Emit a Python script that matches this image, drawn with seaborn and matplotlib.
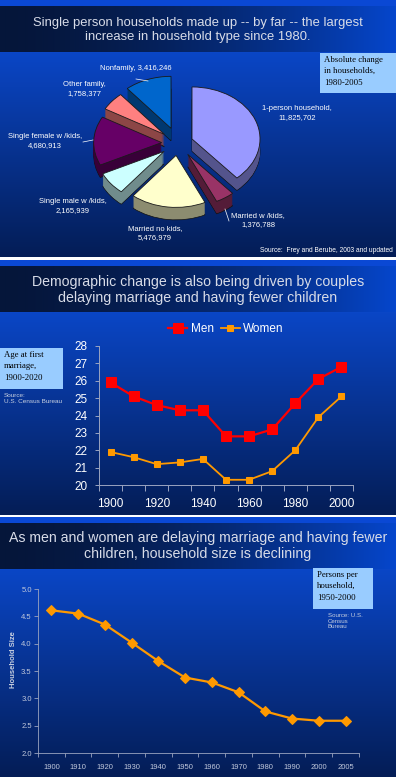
import numpy as np
import seaborn as sns
import matplotlib.pyplot as plt
from matplotlib.colors import to_rgb
from matplotlib.patches import Rectangle

# ---- data ----
hh_types = ["1-person household", "Married w /kids", "Married no kids",
            "Single male w /kids", "Single female w /kids", "Other family", "Nonfamily"]
hh_change = [11825702, 1376788, 5476979, 2165939, 4680913, 1758377, 3416246]
hh_colors = ["#9999FF", "#993366", "#FFFFCC", "#CCFFFF", "#660066", "#FF8080", "#0066CC"]

marriage_years = [1900, 1910, 1920, 1930, 1940, 1950, 1960, 1970, 1980, 1990, 2000]
men_age = [25.9, 25.1, 24.6, 24.3, 24.3, 22.8, 22.8, 23.2, 24.7, 26.1, 26.8]
women_age = [21.9, 21.6, 21.2, 21.3, 21.5, 20.3, 20.3, 20.8, 22.0, 23.9, 25.1]

size_years = ["1900", "1910", "1920", "1930", "1940", "1950", "1960", "1970",
              "1980", "1990", "2000", "2005"]
household_size = [4.61, 4.55, 4.35, 4.02, 3.68, 3.38, 3.29, 3.11, 2.76, 2.63, 2.59, 2.59]

plt.rcParams['font.family'] = ['Liberation Sans', 'DejaVu Sans']

W, H = 396, 777
fig = plt.figure(figsize=(W / 100, H / 100), dpi=100)


def px_box(x0, y0, x1, y1):
    return [x0 / W, 1 - y1 / H, (x1 - x0) / W, (y1 - y0) / H]


# ---- background: three slides ----
bg = np.ones((H, W, 3))
panels = [(0, 257), (260, 515), (517, 777)]
t = np.linspace(0, 1, W)[:, None] ** 1.6
band = (1 - t) * np.array(to_rgb("#05163a")) + t * np.array(to_rgb("#0546cc"))
for top, bottom in panels:
    bg[top:top + 6] = to_rgb("#0a48d4")
    bg[top + 6:top + 52] = band[None, :, :]
    s = np.linspace(0, 1, bottom - top - 52)[:, None]
    grad = (1 - s) * np.array(to_rgb("#0a46c6")) + s * np.array(to_rgb("#041d56"))
    bg[top + 52:bottom] = grad[:, None, :]

ax_bg = fig.add_axes([0, 0, 1, 1])
ax_bg.imshow(bg, aspect='auto', extent=(0, W, H, 0))
ax_bg.set_xlim(0, W)
ax_bg.set_ylim(H, 0)
ax_bg.axis('off')

# ---- 1. exploded "3D" pie ----
ax1 = fig.add_axes(px_box(0, 55, W, 255))
ax1.patch.set_alpha(0)
explode = [0.22, 0.26, 0.24, 0.26, 0.24, 0.26, 0.3]
dark = [tuple(np.array(to_rgb(c)) * 0.55) for c in hh_colors]
depth = 0.24
layers = np.linspace(-depth, 0, 14)[:-1]
for i, d in enumerate(layers):
    ax1.pie(hh_change, colors=dark, startangle=90, counterclock=False,
            explode=explode, center=(0, d),
            wedgeprops=dict(linewidth=0.5 if i == 0 else 0, edgecolor='#111111'))
ax1.pie(hh_change, colors=hh_colors, startangle=90, counterclock=False,
        explode=explode, wedgeprops=dict(linewidth=0.6, edgecolor='#1a1a1a'))
ax1.set_aspect('auto')
cx, cy, rx, ry = 178, 143, 68, 52
ax1.set_xlim(-cx / rx, (W - cx) / rx)
ax1.set_ylim(-(255 - cy) / ry, (cy - 55) / ry)

# ---- 2. age at first marriage ----
ax2 = fig.add_axes(px_box(99, 346, 353, 485))
ax2.patch.set_alpha(0)
x2 = np.arange(len(marriage_years))
sns.lineplot(x=x2, y=men_age, ax=ax2, color='#FF0000', marker='s', markersize=6.5,
             markeredgecolor='#FF0000', linewidth=1.6, label='Men')
sns.lineplot(x=x2, y=women_age, ax=ax2, color='#FF9900', marker='s', markersize=4.5,
             markeredgecolor='#FF9900', linewidth=1.3, label='Women')
ax2.set_xlim(-0.5, len(x2) - 0.5)
ax2.set_ylim(20, 28)
ax2.set_yticks(range(20, 29))
ax2.set_xticks(x2[::2])
ax2.set_xticklabels([str(y) for y in marriage_years[::2]])
ax2.set_xticks(np.arange(-0.5, len(x2)), minor=True)
ax2.tick_params(axis='x', which='major', length=0, pad=9, labelsize=8.5, colors='white')
ax2.tick_params(axis='x', which='minor', length=4, color='#9aa4c0', width=0.7)
ax2.tick_params(axis='y', length=3, color='#9aa4c0', width=0.7, labelsize=8.5,
                colors='white', pad=5.5)
for sp in ['top', 'right']:
    ax2.spines[sp].set_visible(False)
for sp in ['left', 'bottom']:
    ax2.spines[sp].set_color('#9aa4c0')
    ax2.spines[sp].set_linewidth(0.7)
ax2.set_xlabel('')
ax2.set_ylabel('')
ax2.legend(loc='center', bbox_to_anchor=(226 / W, 1 - 329 / H),
           bbox_transform=fig.transFigure, ncol=2, frameon=False, fontsize=8.5,
           labelcolor='white', handlelength=1.6, columnspacing=0.6, handletextpad=0.3)

# ---- 3. household size ----
ax3 = fig.add_axes(px_box(38, 589, 359, 753))
ax3.patch.set_alpha(0)
x3 = np.arange(len(size_years))
sns.lineplot(x=x3, y=household_size, ax=ax3, color='#FF9900', marker='D', markersize=5,
             markeredgecolor='#FF9900', linewidth=1.6)
ax3.set_xlim(-0.5, len(x3) - 0.5)
ax3.set_ylim(2.0, 5.0)
ax3.set_yticks(np.arange(2.0, 5.01, 0.5))
ax3.set_yticklabels([f"{v:.1f}" for v in np.arange(2.0, 5.01, 0.5)])
ax3.set_xticks(x3)
ax3.set_xticklabels(size_years)
ax3.set_xticks(np.arange(-0.5, len(x3)), minor=True)
ax3.tick_params(axis='x', which='major', length=0, pad=8, labelsize=5.5, colors='#c0c8dc')
ax3.tick_params(axis='x', which='minor', length=3, color='#9aa4c0', width=0.6)
ax3.tick_params(axis='y', length=3, color='#9aa4c0', width=0.6, labelsize=5.5,
                colors='#c0c8dc', pad=1.5)
for sp in ['top', 'right']:
    ax3.spines[sp].set_visible(False)
for sp in ['left', 'bottom']:
    ax3.spines[sp].set_color('#9aa4c0')
    ax3.spines[sp].set_linewidth(0.6)
ax3.set_xlabel('')
ax3.set_ylabel('Household Size', fontsize=5.5, fontweight='bold', color='#c8d0e0')
ax3.yaxis.set_label_coords(-0.064, 0.57)

# ---- overlay texts ----
ov = fig.add_axes([0, 0, 1, 1])
ov.set_xlim(0, W)
ov.set_ylim(H, 0)
ov.axis('off')
ov.patch.set_alpha(0)

title_color = '#d8dce8'
ov.text(198, 30, "Single person households made up -- by far -- the largest\n"
        "increase in household type since 1980.", ha='center', va='center',
        fontsize=9.4, color=title_color, linespacing=1.3)
ov.text(198, 290, "Demographic change is also being driven by couples\n"
        "delaying marriage and having fewer children", ha='center', va='center',
        fontsize=10.2, color=title_color, linespacing=1.25)
ov.text(198, 546, "As men and women are delaying marriage and having fewer\n"
        "children, household size is declining", ha='center', va='center',
        fontsize=10.2, color=title_color, linespacing=1.25)

# pie labels
label_pos = [(297, 113), (258, 220), (155, 233), (73, 206), (45, 141), (84, 89), (136, 68)]
for name, val, (lx, ly) in zip(hh_types, hh_change, label_pos):
    sep = " " if name == "Nonfamily" else "\n"
    ov.text(lx, ly, f"{name},{sep}{val:,}", ha='center', va='center', fontsize=5.5,
            color='white', linespacing=1.3)
leaders = [((136, 79), (148, 81)), ((83, 142), (93, 140)), ((229, 221), (225, 209))]
for (a, b) in leaders:
    ov.plot([a[0], b[0]], [a[1], b[1]], color='white', lw=0.5)
ov.text(393, 250, "Source:  Frey and Berube, 2003 and updated", ha='right', va='center',
        fontsize=4.8, color='white')

# blue note boxes
boxes = [((320, 53, 396, 93), "Absolute change\nin households,\n1980-2005"),
         ((0, 348, 63, 389), "Age at first\nmarriage,\n1900-2020"),
         ((313, 568, 373, 609), "Persons per\nhousehold,\n1950-2000")]
for (x0, y0, x1, y1), txt in boxes:
    ov.add_patch(Rectangle((x0, y0), x1 - x0, y1 - y0, facecolor='#99CCFF', edgecolor='none'))
    ov.text(x0 + 4, y0 + 3, txt, ha='left', va='top', fontsize=6.3,
            family=['Liberation Serif'], color='black', linespacing=1.55)

ov.text(4, 393, "Source:\nU.S. Census Bureau", ha='left', va='top', fontsize=4.6,
        color='#c8d0e0', linespacing=1.15)
ov.text(328, 613, "Source: U.S.\nCensus\nBureau", ha='left', va='top', fontsize=4.4,
        color='#c8d0e0', linespacing=1.15)

fig.savefig("out.png", dpi=100)
